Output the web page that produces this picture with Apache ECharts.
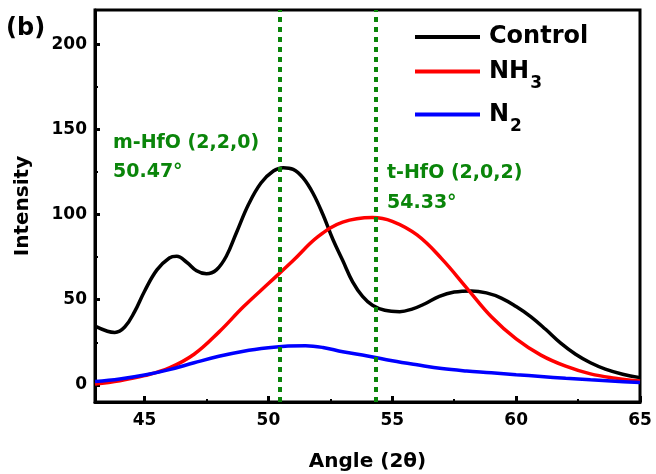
<!DOCTYPE html>
<html>
<head>
<meta charset="utf-8">
<script src="https://cdn.jsdelivr.net/npm/echarts@6/dist/echarts.min.js"></script>
<style>
  html, body { margin: 0; padding: 0; background: #fff; }
  #chart { width: 656px; height: 474px; }
</style>
</head>
<body>
<div id="chart"></div>
<script>
// data: [angle, intensity]
var control = [
  [43, 34.5], [43.5, 31.5], [43.8, 30.8], [44.2, 34], [44.6, 43], [45, 55], [45.5, 67.5],
  [46, 74.5], [46.3, 75.5], [46.7, 72], [47.1, 67], [47.5, 65.2], [47.9, 67.5], [48.3, 75.5],
  [48.7, 89], [49.2, 106], [49.7, 118.5], [50.2, 125.5], [50.6, 127.5], [51, 126.5],
  [51.4, 121.5], [51.8, 112.5], [52.2, 100], [52.6, 85.5], [53, 73], [53.4, 60.5], [53.8, 52],
  [54.2, 46.8], [54.7, 43.8], [55.3, 43], [55.8, 44.5], [56.3, 47.5], [56.9, 52], [57.5, 54.5],
  [58.2, 55.2], [58.8, 54], [59.4, 51], [60, 46], [60.6, 40], [61.2, 32.5], [61.8, 24.5],
  [62.4, 18], [63, 13], [63.6, 9.3], [64.3, 6.3], [65, 4.3]
];
var nh3 = [
  [43, 0.5], [44, 2.5], [45, 5.5], [46, 10], [47, 18], [48, 31], [49, 46], [50, 59.5],
  [51, 73], [52, 87], [53, 95.5], [54.2, 98.2], [55, 96], [56, 88], [57, 74], [58, 57],
  [59, 40], [60, 27], [61, 17.5], [62, 11], [63, 6.5], [64, 4], [65, 2.3]
];
var n2 = [
  [43, 2], [44, 3.5], [45, 5.8], [46, 9], [47, 13], [48, 16.8], [49, 19.8], [50, 21.8],
  [50.8, 22.8], [51.5, 23], [52.2, 22], [53, 19.5], [54, 17], [55, 14.2], [56, 11.8],
  [57, 9.6], [58, 8.2], [59, 7.2], [60, 6], [61, 5], [62, 3.9], [63, 3], [64, 2.2], [65, 1.4]
];
var peaks = [50.47, 54.33];
var xTicks = [45, 50, 55, 60, 65];
var xMinor = [47.5, 52.5, 57.5, 62.5];
var yTicks = [0, 50, 100, 150, 200];
var yMinor = [25, 75, 125, 175];

var green = '#0a850a';
var font = 'DejaVu Sans';

var chart = echarts.init(document.getElementById('chart'));

function lineSeries(name, data, color) {
  return {
    name: name,
    type: 'line',
    data: data,
    smooth: 0.4,
    showSymbol: false,
    lineStyle: { color: color, width: 3.5 },
    itemStyle: { color: color },
    z: 3
  };
}

var series = [
  lineSeries('Control', control, '#000'),
  lineSeries('NH3', nh3, '#ff0000'),
  lineSeries('N2', n2, '#0000ff')
];
// dotted peak positions
series.push({
  type: 'line',
  data: [],
  markLine: {
    silent: true,
    symbol: 'none',
    label: { show: false },
    lineStyle: { color: green, width: 4, type: [5, 5] },
    data: peaks.map(function (p) { return { xAxis: p }; })
  },
  z: 2
});

chart.setOption({
  animation: false,
  textStyle: { fontFamily: font },
  grid: {
    left: 95, right: 16, top: 10, bottom: 72,
    outerBoundsMode: 'none',
    show: true, borderColor: '#000', borderWidth: 3
  },
  legend: {
    orient: 'vertical',
    left: 410, top: 20,
    itemWidth: 65, itemHeight: 4,
    itemGap: 2,
    icon: 'rect',
    data: ['Control', 'NH3', 'N2'],
    formatter: function (name) {
      if (name === 'NH3') return '{b|NH}{s|3}';
      if (name === 'N2') return '{b|N}{s|2}';
      return '{b|' + name + '}';
    },
    textStyle: {
      padding: [0, 0, 0, 4],
      rich: {
        b: { fontFamily: font, fontWeight: 'bold', fontSize: 24, color: '#000', lineHeight: 31 },
        s: { fontFamily: font, fontWeight: 'bold', fontSize: 17, color: '#000', lineHeight: 31, padding: [24, 0, 0, 1] }
      }
    }
  },
  xAxis: [{
    type: 'value',
    min: 43, max: 65,
    name: 'Angle (2\u03b8)',
    nameLocation: 'middle',
    nameGap: 50,
    nameTextStyle: { fontFamily: font, fontWeight: 'bold', fontSize: 20, color: '#000' },
    splitLine: { show: false },
    axisLine: { onZero: false, lineStyle: { color: '#000', width: 3 } },
    axisTick: { inside: true, length: 6, lineStyle: { color: '#000', width: 3 }, customValues: xTicks },
    axisLabel: { margin: 10, fontFamily: font, fontWeight: 'bold', fontSize: 17, color: '#000', customValues: xTicks }
  }, {
    type: 'value',
    min: 43, max: 65,
    position: 'bottom',
    splitLine: { show: false },
    axisLine: { show: false, onZero: false },
    axisTick: { inside: true, length: 3, lineStyle: { color: '#000', width: 2 }, customValues: xMinor },
    axisLabel: { show: false }
  }],
  yAxis: [{
    type: 'value',
    min: -10, max: 220,
    name: 'Intensity',
    nameLocation: 'middle',
    nameGap: 62,
    nameTextStyle: { fontFamily: font, fontWeight: 'bold', fontSize: 20, color: '#000' },
    splitLine: { show: false },
    axisLine: { show: true, onZero: false, lineStyle: { color: '#000', width: 3 } },
    axisTick: { show: true, inside: true, length: 5, lineStyle: { color: '#000', width: 3 }, customValues: yTicks },
    axisLabel: { margin: 8, fontFamily: font, fontWeight: 'bold', fontSize: 17, color: '#000', customValues: yTicks }
  }, {
    type: 'value',
    min: -10, max: 220,
    position: 'left',
    splitLine: { show: false },
    axisLine: { show: false, onZero: false },
    axisTick: { show: true, inside: true, length: 3, lineStyle: { color: '#000', width: 2 }, customValues: yMinor },
    axisLabel: { show: false }
  }],
  graphic: [
    { type: 'text', left: 6, top: 17, style: { text: '(b)', font: 'bold 24px "DejaVu Sans"', fill: '#000' } },
    { type: 'text', x: 113, y: 143, style: { text: 'm-HfO (2,2,0)', font: 'bold 19px "DejaVu Sans"', fill: green, textVerticalAlign: 'middle' } },
    { type: 'text', x: 113, y: 172, style: { text: '50.47\u00b0', font: 'bold 19px "DejaVu Sans"', fill: green, textVerticalAlign: 'middle' } },
    { type: 'text', x: 387, y: 173, style: { text: 't-HfO (2,0,2)', font: 'bold 19px "DejaVu Sans"', fill: green, textVerticalAlign: 'middle' } },
    { type: 'text', x: 387, y: 203, style: { text: '54.33\u00b0', font: 'bold 19px "DejaVu Sans"', fill: green, textVerticalAlign: 'middle' } }
  ],
  series: series
});

window.addEventListener('resize', function () {
  chart.resize();
});
</script>
</body>
</html>
